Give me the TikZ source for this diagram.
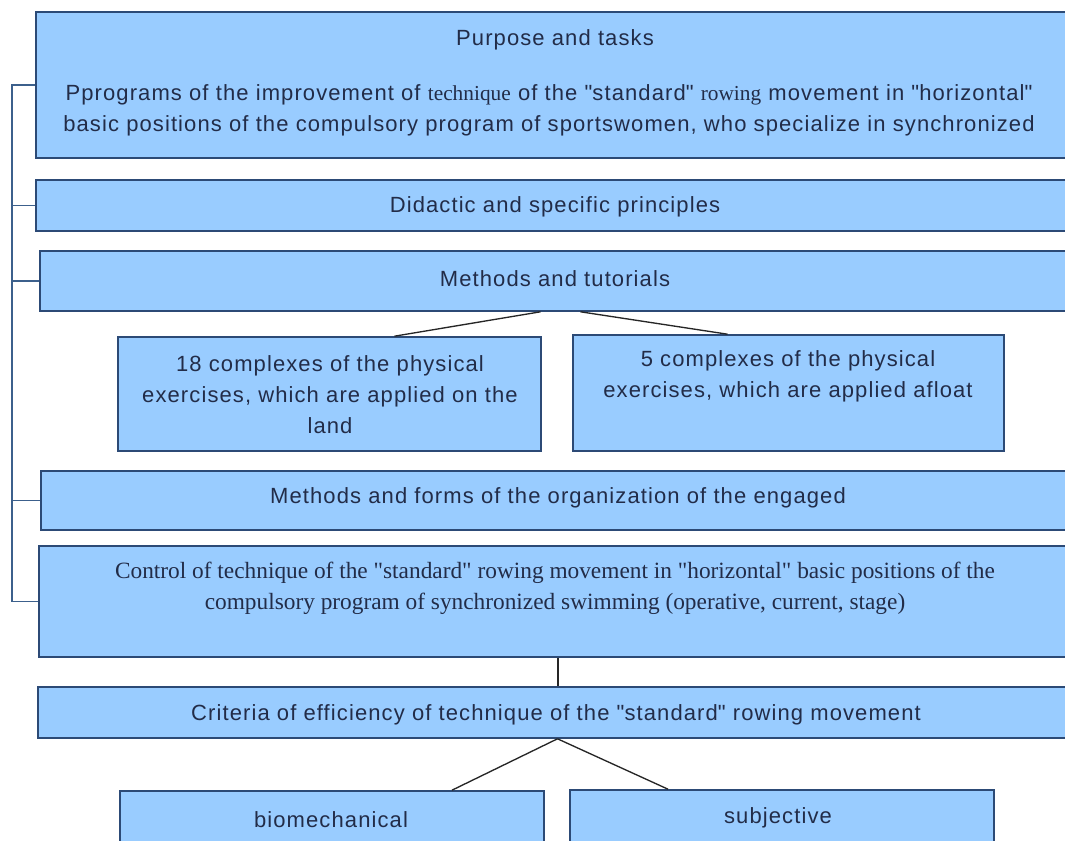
\documentclass[tikz,border=0pt]{standalone}
\usepackage{fontspec}
\setmainfont[LetterSpace=5]{Liberation Sans}
\newfontfamily\serifface{Liberation Serif}
\definecolor{boxfill}{RGB}{153,204,255}
\definecolor{boxline}{RGB}{44,74,118}
\definecolor{txt}{RGB}{34,44,72}
\definecolor{spine}{RGB}{60,96,140}
\tikzset{
      block/.style 2 args={draw=boxline, fill=boxfill, line width=1.2, rectangle, inner sep=0,
            minimum width=#1*0.75pt, minimum height=#2*0.75pt},
      caption/.style={text=txt, align=center, inner sep=0, yshift=-1.8pt,
            font=\fontsize{16.5}{23.25}\selectfont},
      link/.style={draw=black!85, line width=1},
      bracket/.style={draw=spine, line width=1.3},
}
\newcommand{\qt}{\textquotedbl}

\begin{document}
\begin{tikzpicture}[x=0.75pt, y=-0.75pt]
        \clip (0,0) rectangle (1065,841);
        \fill[white] (0,0) rectangle (1065,841);

        % Draw the boxes
        \node[block={1031}{146}] (purpose)  at (551.5,85)  {};
        \node[block={1031}{51}]  (didactic) at (551.5,205.5) {};
        \node[block={1027}{60}]  (methods)  at (553.5,281) {};
        \node[block={423}{114}]  (land)     at (329.5,394) {};
        \node[block={431}{116}]  (afloat)   at (788.5,393) {};
        \node[block={1026}{59}]  (forms)    at (554,500.5) {};
        \node[block={1028}{111}] (control)  at (553,601.5) {};
        \node[block={1029}{51}]  (criteria) at (552.5,712.5) {};
        \node[block={424}{80}]   (biomech)  at (332,831) {};
        \node[block={424}{80}]   (subjective) at (782,830) {};

        % Texts
        \node[caption] (purposetitle) at (555,37) {Purpose and tasks};
        \node[caption] (purposetext) at (549,107.5) {Pprograms of the improvement of {\serifface\fontsize{16}{23.25}\selectfont technique} of the \qt standard\qt{} {\serifface\fontsize{16}{23.25}\selectfont rowing} movement in \qt horizontal\qt\\
              basic positions of the compulsory program of sportswomen, who specialize in synchronized};
        \node[caption] (didactictext) at (555,204) {Didactic and specific principles};
        \node[caption] (methodstext) at (555,276) {Methods and tutorials};
        \node[caption] (landtext) at (330,392.5) {18 complexes of the physical\\ exercises, which are applied on the\\ land};
        \node[caption] (afloattext) at (788,374) {5 complexes of the physical\\ exercises, which are applied afloat};
        \node[caption] (formstext) at (558,495) {Methods and forms of the organization of the engaged};
        \node[caption, font=\serifface\fontsize{17.5}{23.25}\selectfont] (controltext) at (555,585.5)
              {Control of technique of the "standard" rowing movement in "horizontal" basic positions of the\\
               compulsory program of synchronized swimming (operative, current, stage)};
        \node[caption] (criteriatext) at (556,712)
              {Criteria of efficiency of technique of the \qt standard\qt{} rowing movement};
        \node[caption] (biomechtext) at (331,817) {biomechanical};
        \node[caption] (subjectivetext) at (778,815) {subjective};

        % Connectors
        \draw[bracket] (purpose.west) -- (purpose.west -| 12,0) |- (control.west);
        \foreach \b in {didactic, methods, forms}
              \draw[bracket] (\b.west) -- (\b.west -| 12,0);

        \draw[link] ([xshift=-13*0.75pt]methods.south) -- ([xshift=65*0.75pt]land.north);
        \draw[link] ([xshift=27*0.75pt]methods.south) -- ([xshift=-61*0.75pt]afloat.north);
        \draw[link] (control.south -| 558,0) -- (criteria.north -| 558,0);
        \draw[link] ([xshift=5*0.75pt]criteria.south) -- ([xshift=120*0.75pt]biomech.north);
        \draw[link] ([xshift=5*0.75pt]criteria.south) -- ([xshift=-114*0.75pt]subjective.north);

    \end{tikzpicture}
\end{document}
